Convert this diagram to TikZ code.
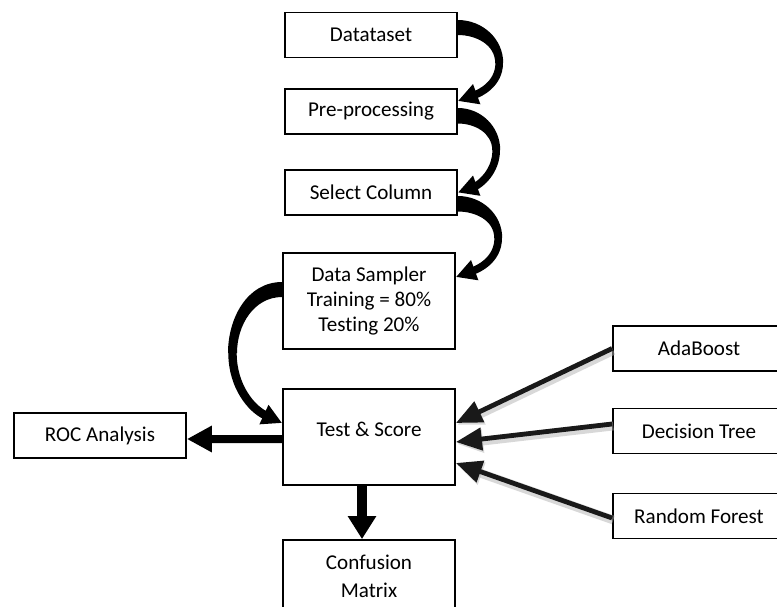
\documentclass[tikz,border=0pt]{standalone}
\usepackage{fontspec}
\setmainfont{Carlito}[Ligatures=NoCommon]
\usetikzlibrary{arrows.meta}

\begin{document}
\begin{tikzpicture}[
    box/.style={draw, line width=1.3pt, minimum width=4.3cm, minimum height=1.125cm, inner sep=0pt, align=center, font=\fontsize{15}{18}\selectfont},
    bigbox/.style={box, minimum height=2.4cm},
    cutbox/.style={box, minimum width=4.7cm},
    curvy/.style={line width=0.19cm, -{Triangle[length=0.5cm, width=0.5cm]}},
    fat/.style={line width=0.2cm, -{Triangle[length=0.625cm, width=0.625cm]}},
    model/.style={draw=black!90, line width=0.12cm, -{Triangle[length=0.65cm, width=0.55cm]},
        preaction={draw=black!30, line width=0.22cm, opacity=0.5, transform canvas={shift={(0.03,-0.05)}}}}
]
    \useasboundingbox (0,0) rectangle (19.425,-15.15);

    % Pipeline column
    \node[box] (ds) at (9.275,-0.875) {Datataset};
    \node[box] (pp) at (9.275,-2.7875) {Pre-processing};
    \node[box] (sc) at (9.275,-4.8125) {Select Column};
    \node[bigbox] (dsm) at (9.225,-7.525) {Data Sampler\\Training = 80\%\\Testing 20\%};
    \node[bigbox, text height=0.45cm, text depth=0.5cm] (ts) at (9.225,-10.925) {Test \& Score};
    \node[box, minimum height=1.8cm] (conf) at (9.225,-14.4) {Confusion\\[2pt]Matrix};

    % Left and right (right ones run off the page)
    \node[box] (roc) at (2.5,-10.8875) {ROC Analysis};
    \node[cutbox] (ada) at (17.675,-8.7125) {AdaBoost\rule{0.4cm}{0pt}};
    \node[cutbox] (dt) at (17.675,-10.775) {Decision Tree\rule{0.4cm}{0pt}};
    \node[cutbox] (rf) at (17.675,-12.9) {Random Forest\rule{0.4cm}{0pt}};

    % Bends of the curved arrows
    \coordinate (b1) at (12.48,-1.575);
    \coordinate (b2) at (12.405,-3.75);
    \coordinate (b3) at (12.455,-5.95);
    \coordinate (b4) at (5.8125,-8.825);

    % Curved arrows
    \fill ([yshift=0.375cm]ds.east) to[out=0,in=90] ([xshift=0.1cm]b1) -- ([xshift=-0.1cm]b1) to[out=90,in=0] ([yshift=0.0cm]ds.east) -- cycle;
    \draw[curvy] (b1) to[out=-90,in=20] ([yshift=0.2625cm]pp.east);
    \fill ([yshift=0.0875cm]pp.east) to[out=0,in=90] ([xshift=0.1cm]b2) -- ([xshift=-0.1cm]b2) to[out=90,in=0] ([yshift=-0.3cm]pp.east) -- cycle;
    \draw[curvy] (b2) to[out=-90,in=20] (sc.east);
    \fill ([yshift=-0.0875cm]sc.east) to[out=0,in=90] ([xshift=0.1cm]b3) -- ([xshift=-0.1cm]b3) to[out=90,in=0] ([yshift=-0.475cm]sc.east) -- cycle;
    \draw[curvy] (b3) to[out=-90,in=20] ([yshift=0.6cm]dsm.east);
    \fill ([yshift=0.475cm]dsm.west) to[out=180,in=90] ([xshift=-0.1125cm]b4) -- ([xshift=0.1125cm]b4) to[out=90,in=180] ([yshift=0.1cm]dsm.west) -- cycle;
    \draw[curvy, line width=0.21cm] (b4) to[out=-90,in=155] ([yshift=0.35cm]ts.west);

    % Straight arrows
    \draw[fat] ([yshift=-0.05cm]ts.west) -- ([yshift=-0.0875cm]roc.east);
    \draw[line width=0.25cm, -{Triangle[length=0.575cm, width=0.675cm]}] ([xshift=-0.175cm]ts.south) -- ([xshift=-0.175cm]conf.north);

    % Models into Test & Score
    \draw[model] (ada.west) -- ([yshift=0.35cm]ts.east);
    \draw[model] ([yshift=0.175cm]dt.west) -- ([yshift=-0.125cm]ts.east);
    \draw[model] ([yshift=-0.05cm]rf.west) -- ([yshift=-0.65cm]ts.east);

\end{tikzpicture}
\end{document}
